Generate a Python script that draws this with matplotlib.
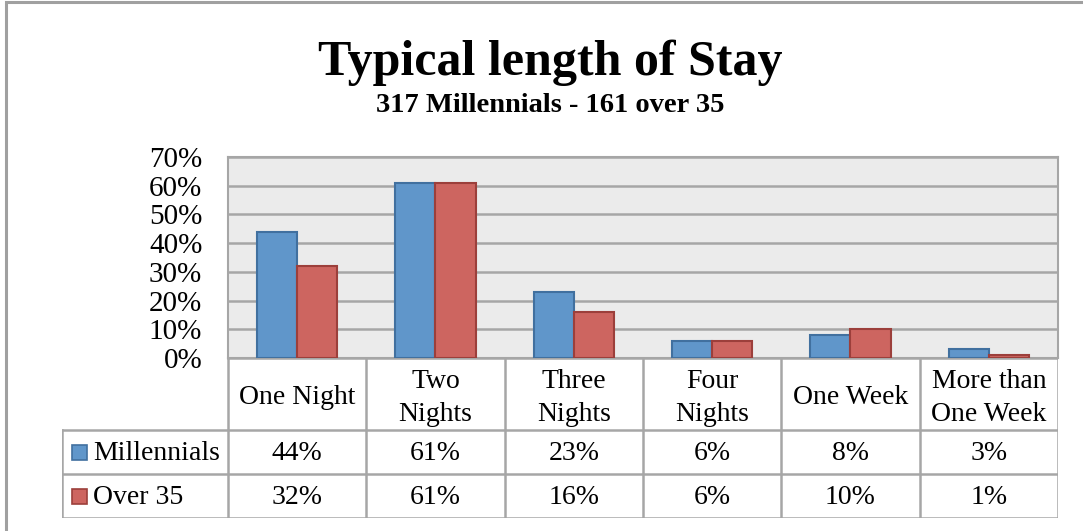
import numpy as np
import matplotlib.pyplot as plt
from matplotlib.patches import Rectangle

categories = ['One Night', 'Two\nNights', 'Three\nNights', 'Four\nNights',
              'One Week', 'More than\nOne Week']
series_names = ['Millennials', 'Over 35']
millennials = [44, 61, 23, 6, 8, 3]
over_35 = [32, 61, 16, 6, 10, 1]
y_ticks = [0, 10, 20, 30, 40, 50, 60, 70]

title = 'Typical length of Stay'
subtitle = '317 Millennials - 161 over 35'

blue, blue_edge = '#6096CA', '#41709F'
red, red_edge = '#CD6560', '#9C3F3B'
grid_col = '#A6A6A6'
font = 'Liberation Serif'

W, H = 1083, 531
fig = plt.figure(figsize=(W / 100, H / 100), dpi=100)
plt.rcParams['font.family'] = font


def px(x0, y0, x1, y1):
    # pixel box (top-left origin) -> figure fraction rect
    return [x0 / W, 1 - y1 / H, (x1 - x0) / W, (y1 - y0) / H]


# outer frame
fig.add_artist(Rectangle((5.5 / W, -0.2), 1.2, 1.2 - 1.5 / H, fill=False,
                         edgecolor='#A0A0A0', lw=2.2, transform=fig.transFigure))

fig.text(550 / W, 1 - 63 / H, title, ha='center', va='center',
         fontsize=36, fontweight='bold', family=font)
fig.text(550 / W, 1 - 105 / H, subtitle, ha='center', va='center',
         fontsize=20.5, fontweight='bold', family=font)

# bar chart
ax = fig.add_axes(px(228, 157, 1058, 358))
x = np.arange(len(categories))
bw = 0.29
ax.bar(x - bw / 2, millennials, bw, color=blue, edgecolor=blue_edge, lw=1.5, zorder=3)
ax.bar(x + bw / 2, over_35, bw, color=red, edgecolor=red_edge, lw=1.5, zorder=3)
ax.set_xlim(-0.5, len(categories) - 0.5)
ax.set_ylim(0, 70)
ax.set_facecolor('#EBEBEB')
ax.set_yticks(y_ticks)
ax.set_yticklabels([f'{v}%' for v in y_ticks], fontsize=21, family=font)
ax.tick_params(axis='y', length=0, pad=18.5)
ax.set_xticks([])
ax.yaxis.grid(True, color=grid_col, lw=1.8, zorder=1)
for s in ax.spines.values():
    s.set_color(grid_col)
    s.set_linewidth(1.5)

# data table below
unit = 830 / 6
left_edge = -0.5 - 166 / unit
tb = fig.add_axes(px(62, 358, 1058, 518))
tb.set_xlim(left_edge, len(categories) - 0.5)
tb.set_ylim(160, 0)
tb.axis('off')

lkw = dict(color=grid_col, lw=1.8)
rows = [0, 72, 116, 160]
tb.plot([-0.5, len(categories) - 0.5], [0, 0], **lkw)
for r in rows[1:]:
    tb.plot([left_edge, len(categories) - 0.5], [r, r], **lkw)
tb.plot([left_edge, left_edge], [72, 160], **lkw)
for i in range(len(categories) + 1):
    tb.plot([i - 0.5, i - 0.5], [0, 160], **lkw)

fs = 20
for i, c in enumerate(categories):
    tb.text(i, 40, c, ha='center', va='center', fontsize=fs, family=font,
            linespacing=1.4)
    tb.text(i, 95, f'{millennials[i]}%', ha='center', va='center', fontsize=fs, family=font)
    tb.text(i, 139, f'{over_35[i]}%', ha='center', va='center', fontsize=fs, family=font)

sq = 15
for name, fc, ec, yc in [(series_names[0], blue, blue_edge, 94),
                         (series_names[1], red, red_edge, 138)]:
    tb.add_patch(Rectangle((left_edge + 10 / unit, yc - sq / 2), sq / unit, sq,
                           facecolor=fc, edgecolor=ec, lw=1.2))
    tb.text(left_edge + 31 / unit, yc + 1, name, ha='left', va='center',
            fontsize=fs, family=font)

fig.savefig('out.png', dpi=100)
